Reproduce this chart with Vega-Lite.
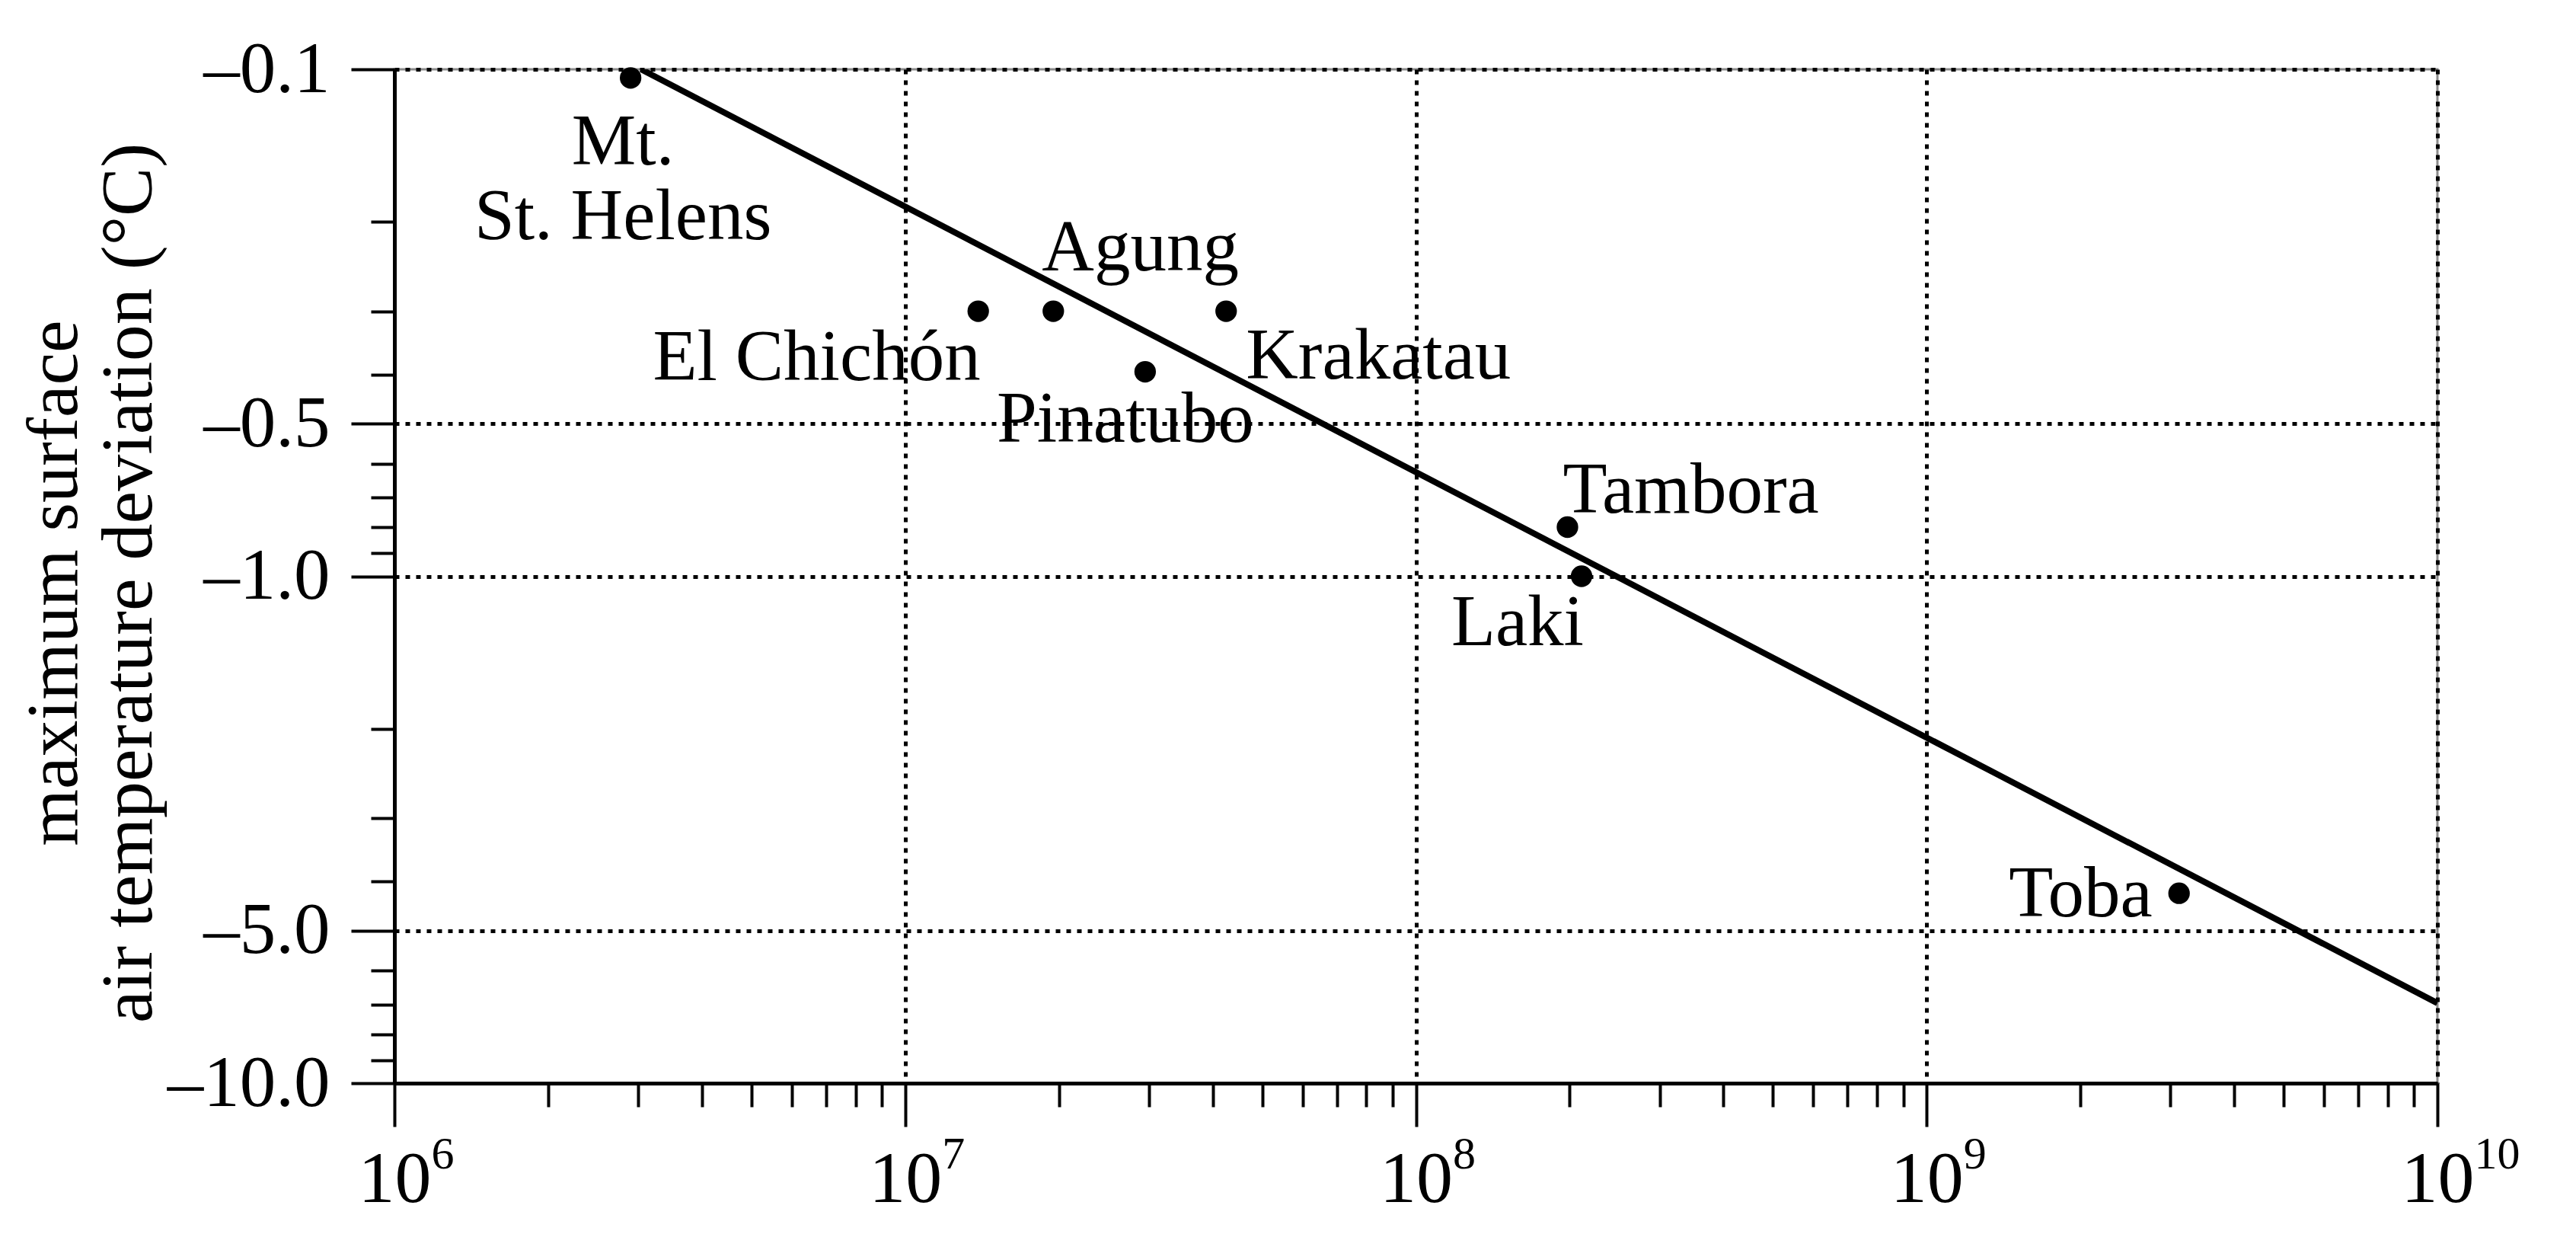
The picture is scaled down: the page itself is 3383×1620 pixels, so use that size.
{
  "$schema": "https://vega.github.io/schema/vega-lite/v6.json",
  "width": 2683,
  "height": 1331,
  "autosize": {"type": "none"},
  "padding": {"left": 518, "top": 91, "right": 182, "bottom": 198},
  "background": "white",
  "config": {
    "view": {"stroke": "#8a8a8a", "strokeWidth": 3},
    "font": "Liberation Serif"
  },
  "datasets": {
    "volcanoes": [
      {"name": "Mt. St. Helens", "label": "Mt.\nSt. Helens", "mass": 2.9e6, "dT": -0.104},
      {"name": "El Chichón", "label": "El Chichón", "mass": 1.39e7, "dT": -0.3},
      {"name": "Agung", "label": "Agung", "mass": 1.95e7, "dT": -0.3},
      {"name": "Pinatubo", "label": "Pinatubo", "mass": 2.95e7, "dT": -0.395},
      {"name": "Krakatau", "label": "Krakatau", "mass": 4.25e7, "dT": -0.3},
      {"name": "Tambora", "label": "Tambora", "mass": 1.98e8, "dT": -0.8},
      {"name": "Laki", "label": "Laki", "mass": 2.11e8, "dT": -1.0},
      {"name": "Toba", "label": "Toba", "mass": 3.12e9, "dT": -4.22}
    ],
    "fit": [
      {"mass": 3.04e6, "dT": -0.1},
      {"mass": 1e10, "dT": -6.95}
    ]
  },
  "data": {"name": "volcanoes"},
  "resolve": {"axis": {"x": "independent"}},
  "encoding": {
    "x": {
      "field": "mass",
      "type": "quantitative",
      "scale": {"type": "log", "domain": [1e6, 1e10], "nice": false},
      "axis": null
    },
    "y": {
      "field": "dT",
      "type": "quantitative",
      "scale": {"type": "log", "domain": [-10, -0.1], "nice": false},
      "axis": {
        "title": ["maximum surface", "air temperature deviation (°C)"],
        "titleFont": "Liberation Serif",
        "titleFontSize": 96,
        "titleFontWeight": "normal",
        "titleColor": "black",
        "titleX": -418,
        "titleY": 674,
        "titleAngle": -90,
        "titleAlign": "center",
        "titleBaseline": "alphabetic",
        "titleLineHeight": 98,
        "values": [-0.1, -0.2, -0.3, -0.4, -0.5, -0.6, -0.7, -0.8, -0.9, -1, -2, -3, -4, -5, -6, -7, -8, -9, -10],
        "labelExpr": "indexof([-0.1, -0.5, -1, -5, -10], datum.value) >= 0 ? '–' + format(abs(datum.value), '.1f') : ''",
        "labelFont": "Liberation Serif",
        "labelFontSize": 95,
        "labelColor": "black",
        "labelAlign": "right",
        "labelBaseline": "middle",
        "labelPadding": 28,
        "labelLimit": 0,
        "labelFlush": false,
        "labelOverlap": false,
        "labelBound": false,
        "domainColor": "black",
        "domainWidth": 5,
        "tickColor": "black",
        "tickWidth": 4,
        "tickSize": {"condition": {"test": "indexof([-0.1, -0.5, -1, -5, -10], datum.value) >= 0", "value": 57}, "value": 31},
        "grid": true,
        "gridColor": "black",
        "gridWidth": 5,
        "gridDash": [6, 8],
        "gridOpacity": {"condition": {"test": "indexof([-0.1, -0.5, -1, -5, -10], datum.value) >= 0", "value": 1}, "value": 0}
      }
    }
  },
  "layer": [
    {
      "data": {"name": "fit"},
      "mark": {"type": "line", "color": "black", "strokeWidth": 8, "clip": true},
      "encoding": {
        "x": {
          "field": "mass",
          "type": "quantitative",
          "scale": {"type": "log", "domain": [1e6, 1e10], "nice": false},
          "axis": {
            "orient": "bottom",
            "title": null,
            "values": [1e6, 2e6, 3e6, 4e6, 5e6, 6e6, 7e6, 8e6, 9e6, 1e7, 2e7, 3e7, 4e7, 5e7, 6e7, 7e7, 8e7, 9e7, 1e8, 2e8, 3e8, 4e8, 5e8, 6e8, 7e8, 8e8, 9e8, 1e9, 2e9, 3e9, 4e9, 5e9, 6e9, 7e9, 8e9, 9e9, 1e10],
            "labelExpr": "indexof([1e6, 1e7, 1e8, 1e9, 1e10], datum.value) >= 0 ? '10' : ''",
            "labelFont": "Liberation Serif",
            "labelFontSize": 96,
            "labelColor": "black",
            "labelAlign": "left",
            "labelOffset": -48,
            "labelBaseline": "top",
            "labelPadding": 22,
            "labelLimit": 0,
            "labelFlush": false,
            "labelOverlap": false,
            "labelBound": false,
            "domainColor": "black",
            "domainWidth": 5,
            "tickColor": "black",
            "tickWidth": 4,
            "tickSize": {"condition": {"test": "indexof([1e6, 1e7, 1e8, 1e9, 1e10], datum.value) >= 0", "value": 57}, "value": 31},
            "grid": true,
            "gridColor": "black",
            "gridWidth": 5,
            "gridDash": [6, 8],
            "gridOpacity": {"condition": {"test": "indexof([1e6, 1e7, 1e8, 1e9, 1e10], datum.value) >= 0", "value": 1}, "value": 0}
          }
        }
      }
    },
    {
      "mark": {"type": "circle", "color": "black", "size": 800, "opacity": 1},
      "encoding": {
        "x": {
          "field": "mass",
          "type": "quantitative",
          "scale": {"type": "log", "domain": [1e6, 1e10], "nice": false},
          "axis": {
            "orient": "bottom",
            "title": null,
            "values": [1e6, 1e7, 1e8, 1e9, 1e10],
            "labelExpr": "datum.value === 1e6 ? '6' : datum.value === 1e7 ? '7' : datum.value === 1e8 ? '8' : datum.value === 1e9 ? '9' : '10'",
            "labelFont": "Liberation Serif",
            "labelFontSize": 60,
            "labelColor": "black",
            "labelAlign": "left",
            "labelOffset": 48,
            "labelBaseline": "top",
            "labelPadding": 64,
            "labelLimit": 0,
            "labelFlush": false,
            "labelOverlap": false,
            "labelBound": false,
            "ticks": false,
            "domain": false,
            "grid": false
          }
        }
      }
    },
    {
      "transform": [{"filter": "datum.name === 'Mt. St. Helens'"}],
      "mark": {"type": "text", "font": "Liberation Serif", "fontSize": 95, "color": "black", "align": "center", "baseline": "alphabetic", "dx": -10, "dy": 114, "lineBreak": "\n", "lineHeight": 98},
      "encoding": {"text": {"field": "label"}}
    },
    {
      "transform": [{"filter": "datum.name === 'El Chichón' || datum.name === 'Laki'"}],
      "mark": {"type": "text", "font": "Liberation Serif", "fontSize": 95, "color": "black", "align": "right", "baseline": "alphabetic", "dx": 3, "dy": 90},
      "encoding": {"text": {"field": "label"}}
    },
    {
      "transform": [{"filter": "datum.name === 'Pinatubo'"}],
      "mark": {"type": "text", "font": "Liberation Serif", "fontSize": 95, "color": "black", "align": "center", "baseline": "alphabetic", "dx": -26, "dy": 92},
      "encoding": {"text": {"field": "label"}}
    },
    {
      "transform": [{"filter": "datum.name === 'Krakatau'"}],
      "mark": {"type": "text", "font": "Liberation Serif", "fontSize": 95, "color": "black", "align": "left", "baseline": "alphabetic", "dx": 26, "dy": 88},
      "encoding": {"text": {"field": "label"}}
    },
    {
      "transform": [{"filter": "datum.name === 'Agung'"}],
      "mark": {"type": "text", "font": "Liberation Serif", "fontSize": 95, "color": "black", "align": "left", "baseline": "alphabetic", "dx": -15, "dy": -54},
      "encoding": {"text": {"field": "label"}}
    },
    {
      "transform": [{"filter": "datum.name === 'Tambora'"}],
      "mark": {"type": "text", "font": "Liberation Serif", "fontSize": 95, "color": "black", "align": "left", "baseline": "alphabetic", "dx": -6, "dy": -19},
      "encoding": {"text": {"field": "label"}}
    },
    {
      "transform": [{"filter": "datum.name === 'Toba'"}],
      "mark": {"type": "text", "font": "Liberation Serif", "fontSize": 95, "color": "black", "align": "right", "baseline": "alphabetic", "dx": -35, "dy": 30},
      "encoding": {"text": {"field": "label"}}
    }
  ]
}
